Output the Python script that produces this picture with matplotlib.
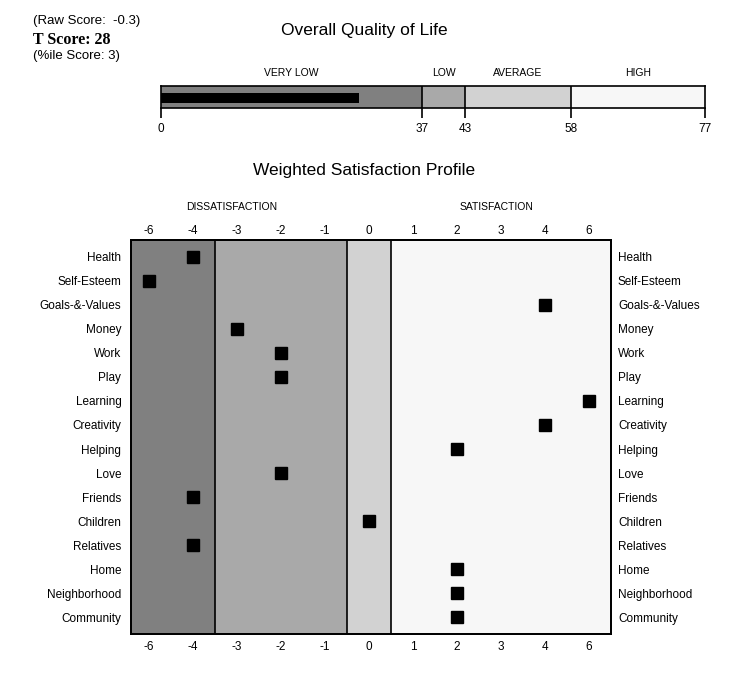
import matplotlib.pyplot as plt

plt.rcParams['font.family'] = ['Liberation Sans', 'DejaVu Sans']

W, H = 745, 681

# overall quality of life
raw_score = -0.3
t_score = 28
pct_score = 3
band_edges = [0, 37, 43, 58, 77]
band_names = ['VERY LOW', 'LOW', 'AVERAGE', 'HIGH']
band_colors = ['#808080', '#a9a9a9', '#d2d2d2', '#f7f7f7']

# weighted satisfaction profile
scale_labels = ['-6', '-4', '-3', '-2', '-1', '0', '1', '2', '3', '4', '6']
areas = ['Health', 'Self-Esteem', 'Goals-&-Values', 'Money', 'Work', 'Play',
         'Learning', 'Creativity', 'Helping', 'Love', 'Friends', 'Children',
         'Relatives', 'Home', 'Neighborhood', 'Community']
scores = [-4, -6, 4, -3, -2, -2, 6, 4, 2, -2, -4, 0, -4, 2, 2, 2]
zone_edges = [-0.41, 1.5, 4.5, 5.5, 10.5]
zone_colors = ['#808080', '#a9a9a9', '#d2d2d2', '#f7f7f7']


def box(l, t, r, b):
    return [l / W, 1 - b / H, (r - l) / W, (b - t) / H]


fig = plt.figure(figsize=(W / 100, H / 100), dpi=100)

fig.text(33 / W, 1 - 21 / H, '(Raw Score:  %s)' % raw_score, fontsize=9.5, va='center')
fig.text(33 / W, 1 - 40 / H, 'T Score: %d' % t_score, fontsize=11.5, va='center',
         family='Liberation Serif', weight='bold')
fig.text(33 / W, 1 - 56 / H, '(%%ile Score: %d)' % pct_score, fontsize=9.5, va='center')
fig.text(364 / W, 1 - 31 / H, 'Overall Quality of Life', fontsize=12.5, ha='center', va='center')

ax1 = fig.add_axes(box(161, 86, 705, 108))
for i in range(len(band_names)):
    ax1.axvspan(band_edges[i], band_edges[i + 1], color=band_colors[i], lw=0)
    ax1.text((band_edges[i] + band_edges[i + 1]) / 2, 1.6, band_names[i],
             fontsize=7.5, ha='center', va='center')
for e in band_edges[1:-1]:
    ax1.axvline(e, color='black', lw=1.2)
ax1.barh(0.46, t_score, height=0.46, left=0, color='black')
ax1.set_xlim(0, 77)
ax1.set_ylim(0, 1)
ax1.set_yticks([])
ax1.set_xticks(band_edges)
ax1.tick_params(axis='x', length=7, width=1.2, pad=4, labelsize=8.5)
for s in ax1.spines.values():
    s.set_linewidth(1.2)

fig.text(364 / W, 1 - 171 / H, 'Weighted Satisfaction Profile', fontsize=12.5,
         ha='center', va='center')
fig.text(232 / W, 1 - 207 / H, 'DISSATISFACTION', fontsize=7.5, ha='center', va='center')
fig.text(497 / W, 1 - 207 / H, 'SATISFACTION', fontsize=7.5, ha='center', va='center')

ax2 = fig.add_axes(box(131, 240, 611, 634))
for i in range(len(zone_colors)):
    ax2.axvspan(zone_edges[i], zone_edges[i + 1], color=zone_colors[i], lw=0)
for e in zone_edges[1:-1]:
    ax2.axvline(e, color='black', lw=1.2)
xpos = [scale_labels.index(str(s)) for s in scores]
ax2.plot(xpos, range(len(areas)), 's', color='black', ms=8)
ax2.set_xlim(zone_edges[0], zone_edges[-1])
ax2.set_ylim(len(areas) - 0.3, -0.7)
ax2.set_xticks(range(len(scale_labels)))
ax2.set_xticklabels(scale_labels)
ax2.tick_params(axis='x', length=0, labelsize=8.5, pad=5)
top = ax2.secondary_xaxis('top')
top.set_xticks(range(len(scale_labels)))
top.set_xticklabels(scale_labels)
top.tick_params(axis='x', length=0, labelsize=8.5, pad=2)
ax2.set_yticks(range(len(areas)))
ax2.set_yticklabels(areas)
ax2.tick_params(axis='y', length=0, labelsize=8.5, pad=7)

ax3 = ax2.twinx()
ax3.set_ylim(ax2.get_ylim())
ax3.set_yticks(range(len(areas)))
ax3.set_yticklabels(areas)
ax3.tick_params(axis='y', length=0, labelsize=8.5, pad=5)
for s in list(ax2.spines.values()) + list(ax3.spines.values()) + list(top.spines.values()):
    s.set_linewidth(1.3)

fig.savefig('out.png', dpi=100)
